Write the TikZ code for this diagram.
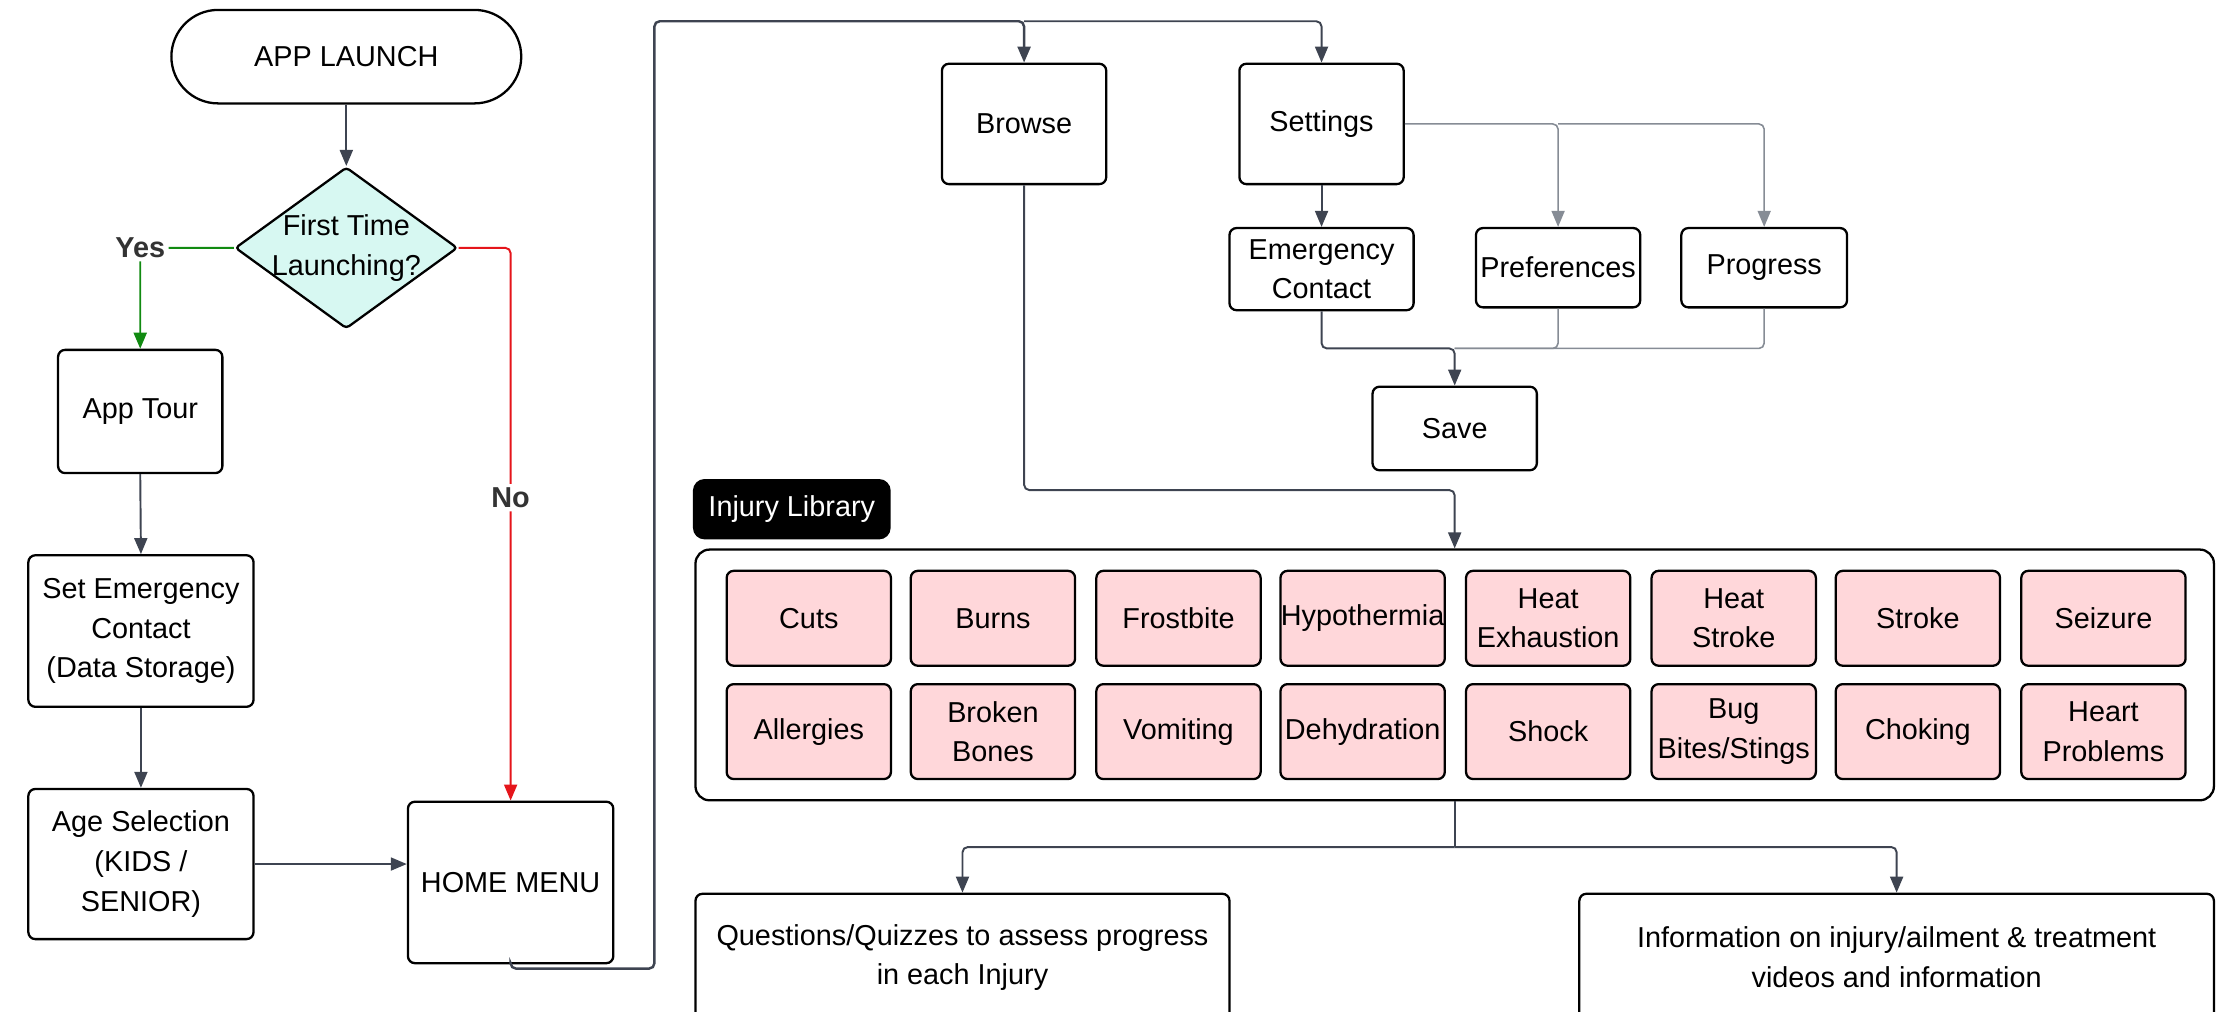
\documentclass[tikz,border=0pt]{standalone}
\usepackage{fontspec}
\setmainfont{Liberation Sans}
\usepackage{tikz}
\usetikzlibrary{shapes.geometric, arrows.meta}

\newlength{\pxu}
\setlength{\pxu}{0.014165cm}

\definecolor{linegray}{HTML}{3E4451}
\definecolor{lightline}{HTML}{868C95}
\definecolor{injpink}{HTML}{FFD7DA}
\definecolor{qcyan}{HTML}{D7F8F2}
\definecolor{yesgreen}{HTML}{118A11}
\definecolor{nored}{HTML}{E5151B}
\definecolor{labelgray}{HTML}{333333}

\tikzset{
  box/.style={draw, rounded corners=2pt, line width=0.65pt, inner sep=0pt, align=center},
  injury/.style={box, fill=injpink, minimum width=116\pxu, minimum height=67\pxu},
  conn/.style={draw=linegray, line width=0.55pt, rounded corners=1.5pt, -{Triangle[length=1.6mm, width=1.3mm]}},
  lightconn/.style={conn, draw=lightline, line width=0.45pt},
  branch/.style={font=\fontsize{8.2}{11.3}\selectfont\bfseries, text=labelgray, fill=white, inner sep=1pt}
}

\begin{document}
\begin{tikzpicture}[x=0.014165cm, y=-0.014165cm, font=\fontsize{8.2}{11.3}\selectfont]
\useasboundingbox (0,0) rectangle (1568,714);

% start and first question
\node[box, rounded corners=33\pxu, minimum width=247\pxu, minimum height=66\pxu] (launch) at (244.5,40) {APP LAUNCH};
\node[box, diamond, shape aspect=1.38, inner sep=-1.5pt, fill=qcyan, rounded corners=1pt, minimum width=157\pxu, minimum height=114\pxu] (firsttime) at (244.5,175) {First Time\\Launching?};

% first launch path
\node[box, minimum width=116\pxu, minimum height=87\pxu] (apptour) at (99,290.5) {App Tour};
\node[box, minimum width=159\pxu, minimum height=107\pxu] (setcontact) at (99.5,445.5) {Set Emergency\\Contact\\(Data Storage)};
\node[box, minimum width=159\pxu, minimum height=106\pxu] (agesel) at (99.5,610) {Age Selection\\(KIDS /\\SENIOR)};
\node[box, minimum width=145\pxu, minimum height=114\pxu] (home) at (360.5,623) {HOME MENU};

% menu
\node[box, minimum width=116\pxu, minimum height=85\pxu] (browse) at (723,87.5) {Browse};
\node[box, minimum width=116\pxu, minimum height=85\pxu] (settings) at (933,87.5) {Settings};
\node[box, minimum width=130\pxu, minimum height=58\pxu] (emcontact) at (933,190) {Emergency\\Contact};
\node[box, minimum width=116\pxu, minimum height=56\pxu] (prefs) at (1100,189) {Preferences};
\node[box, minimum width=117\pxu, minimum height=56\pxu] (progress) at (1245.5,189) {Progress};
\node[box, minimum width=116\pxu, minimum height=59\pxu] (save) at (1027,302.5) {Save};

% injury library
\node[box, fill=black, text=white, rounded corners=3pt, minimum width=138\pxu, minimum height=41\pxu] (liblabel) at (559,359.5) {Injury Library};
\node[box, rounded corners=4pt, minimum width=1072\pxu, minimum height=177\pxu] (library) at (1027,476.5) {};

\node[injury] (cuts) at (571,436.5) {Cuts};
\node[injury] (burns) at (701,436.5) {Burns};
\node[injury] (frostbite) at (832,436.5) {Frostbite};
\node[injury] (hypothermia) at (962,436.5) {Hypothermia};
\node[injury] (heatexh) at (1093,436.5) {Heat\\Exhaustion};
\node[injury] (heatstroke) at (1224,436.5) {Heat\\Stroke};
\node[injury] (stroke) at (1354,436.5) {Stroke};
\node[injury] (seizure) at (1485,436.5) {Seizure};

\node[injury] (allergies) at (571,516.5) {Allergies};
\node[injury] (bones) at (701,516.5) {Broken\\Bones};
\node[injury] (vomiting) at (832,516.5) {Vomiting};
\node[injury] (dehydration) at (962,516.5) {Dehydration};
\node[injury] (shock) at (1093,516.5) {Shock};
\node[injury] (bugbites) at (1224,516.5) {Bug\\Bites/Stings};
\node[injury] (choking) at (1354,516.5) {Choking};
\node[injury] (heart) at (1485,516.5) {Heart\\Problems};

\node[box, minimum width=377\pxu, minimum height=90\pxu] (quiz) at (679.5,676) {Questions/Quizzes to assess progress\\in each Injury};
\node[box, minimum width=448\pxu, minimum height=90\pxu] (info) at (1339,676) {Information on injury/ailment \& treatment\\videos and information};

% connectors
\coordinate (topbus) at (462,15);
\coordinate (merge) at (1027,246);
\coordinate (split) at (1027,598);

\draw[conn] (launch.south) -- (firsttime.north);
\draw[conn, draw=yesgreen] (firsttime.west) -| (apptour.north) node[branch, pos=0.5] {Yes};
\draw[conn, draw=nored] (firsttime.east) -| (home.north) node[branch, pos=0.726] {No};
\draw[conn] (apptour.south) -- (setcontact.north);
\draw[conn] (setcontact.south) -- (agesel.north);
\draw[conn] (agesel.east) -- (agesel.east -| home.west);

\draw[conn, line width=0.7pt] (home.south) -- ++(0,3) -| (topbus) -| (browse.north);
\draw[conn] (browse.north |- topbus) -| (settings.north);

\draw[conn] (settings.south) -- (emcontact.north);
\draw[lightconn] (settings.east) -| (prefs.north);
\draw[lightconn] (prefs.north |- settings.east) -| (progress.north);

\draw[conn] (emcontact.south) |- (merge) -- (save.north);
\draw[draw=lightline, line width=0.45pt, rounded corners=1.5pt] (prefs.south) |- (merge);
\draw[draw=lightline, line width=0.45pt, rounded corners=1.5pt] (progress.south) |- (merge);

\draw[conn] (browse.south) -- (browse.south |- 0,346) -| (library.north);

\draw[draw=linegray, line width=0.55pt] (library.south) -- (split);
\draw[conn] (split) -| (quiz.north);
\draw[conn] (split) -| (info.north);

\end{tikzpicture}
\end{document}
